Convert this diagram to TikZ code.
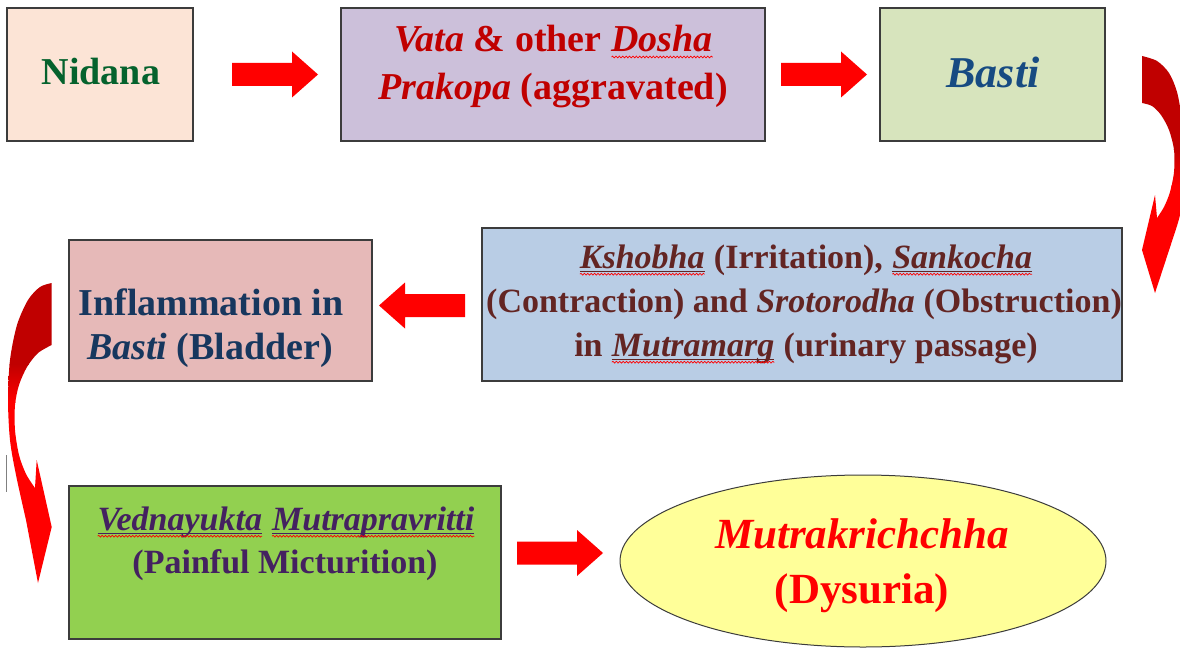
\documentclass[tikz,border=0pt]{standalone}
\usepackage{fontspec}
\setmainfont{Liberation Serif}
\usetikzlibrary{shapes.geometric,decorations.pathmorphing}

\definecolor{fNid}{RGB}{252,228,214}
\definecolor{fVata}{RGB}{204,192,218}
\definecolor{fBasti}{RGB}{215,228,189}
\definecolor{fKsh}{RGB}{185,205,229}
\definecolor{fInfl}{RGB}{230,185,184}
\definecolor{fVed}{RGB}{146,208,80}
\definecolor{fMut}{RGB}{255,255,153}
\definecolor{cNid}{RGB}{5,98,45}
\definecolor{cVata}{RGB}{192,0,0}
\definecolor{cBasti}{RGB}{23,75,130}
\definecolor{cKsh}{RGB}{99,37,35}
\definecolor{cInfl}{RGB}{23,55,94}
\definecolor{cVed}{RGB}{68,33,96}
\definecolor{cMut}{RGB}{255,0,0}
\definecolor{arrowred}{RGB}{255,0,0}
\definecolor{darkred}{RGB}{192,0,0}
\definecolor{boxline}{RGB}{60,60,60}

\tikzset{
  wavestyle/.style={draw=red, line width=0.7pt, decorate, decoration={snake, amplitude=0.9pt, segment length=3.4pt}},
}
% red wavy underline only
\newcommand\wvy[1]{\tikz[baseline=(W.base)]{\node[inner sep=0pt, outer sep=0pt] (W) {#1};
  \draw[wavestyle] ([yshift=-5pt]W.base west) -- ([yshift=-5pt]W.base east);}}
% dark underline plus red wavy underline
\newcommand\uwvy[2]{\tikz[baseline=(W.base)]{\node[inner sep=0pt, outer sep=0pt] (W) {#2};
  \draw[draw=#1, line width=1.6pt] ([yshift=-3.4pt]W.base west) -- ([yshift=-3.4pt]W.base east);
  \draw[wavestyle] ([yshift=-6.2pt]W.base west) -- ([yshift=-6.2pt]W.base east);}}

\tikzset{
  boxnode/.style={draw=boxline, line width=1.3pt, inner sep=0pt, rectangle},
  txt/.style={inner sep=0pt, anchor=base},
  f38/.style={font=\fontsize{38}{44}\selectfont\bfseries},
  f34/.style={font=\fontsize{34}{40}\selectfont\bfseries},
  f44/.style={font=\fontsize{44}{50}\selectfont\bfseries},
  f43/.style={font=\fontsize{43}{50}\selectfont\bfseries},
  barrow/.pic={\fill[arrowred] (0,-11.5) -- (60,-11.5) -- (60,-23) -- (86,0) -- (60,23) -- (60,11.5) -- (0,11.5) -- cycle;}
}

\begin{document}
\begin{tikzpicture}[x=1pt,y=-1pt]
\useasboundingbox (0,0) rectangle (1180,650);
\fill[white] (0,0) rectangle (1180,650);

% boxes
\node[boxnode, fill=fNid, minimum width=186pt, minimum height=133pt] (nid) at (100,74.5) {};
\node[boxnode, fill=fVata, minimum width=424pt, minimum height=133pt] (vata) at (553,74.5) {};
\node[boxnode, fill=fBasti, minimum width=225pt, minimum height=133pt] (basti) at (992.5,74.5) {};
\node[boxnode, fill=fKsh, minimum width=640pt, minimum height=153pt] (ksh) at (802,304.5) {};
\node[boxnode, fill=fInfl, minimum width=303pt, minimum height=141pt] (infl) at (220.5,310.5) {};
\node[boxnode, fill=fVed, minimum width=432pt, minimum height=153pt] (ved) at (285,562.5) {};
\node[ellipse, draw=boxline, line width=1pt, fill=fMut, inner sep=0pt, minimum width=486pt, minimum height=172pt] (mut) at (863,561) {};

% texts
\node[txt, f38, text=cNid] (nidt) at (101,85) {Nidana};
\node[txt, f38, text=cVata] (vata1) at (554,52) {\textit{Vata} \& other \wvy{\itshape Dosha}};
\node[txt, f38, text=cVata] (vata2) at (553,100) {\textit{Prakopa} (aggravated)};
\node[txt, f44, text=cBasti] (bastit) at (993,88) {\textit{Basti}};
\node[txt, f34, text=cKsh] (ksh1) at (806,268) {\uwvy{cKsh}{\itshape Kshobha} (Irritation), \uwvy{cKsh}{\itshape Sankocha}};
\node[txt, f34, text=cKsh] (ksh2) at (804,312) {(Contraction) and \textit{Srotorodha} (Obstruction)};
\node[txt, f34, text=cKsh] (ksh3) at (806,356) {in \uwvy{cKsh}{\itshape Mutramarg} (urinary passage)};
\node[txt, f38, text=cInfl] (infl1) at (211,315) {Inflammation in};
\node[txt, f38, text=cInfl] (infl2) at (210,359) {\textit{Basti} (Bladder)};
\node[txt, f34, text=cVed] (ved1) at (286,530) {\uwvy{cVed}{\itshape Vednayukta} \uwvy{cVed}{\itshape Mutrapravritti}};
\node[txt, f34, text=cVed] (ved2) at (285,573) {(Painful Micturition)};
\node[txt, f43, text=cMut] (mut1) at (862,548) {\textit{Mutrakrichchha}};
\node[txt, f43, text=cMut] (mut2) at (862,603) {(Dysuria)};

% straight block arrows
\pic at (232,74.5) {barrow};
\pic at (781,74.5) {barrow};
\pic[rotate=180] at (465,305.5) {barrow};
\pic at (517,553) {barrow};

% curved arrow on the right (Basti -> Kshobha)
\begin{scope}
\clip (1142,56) -- plot[smooth] coordinates {(1142,56) (1157,61) (1169,73) (1177,92) (1182,120) (1185,155) (1184,190) (1180,215) (1175,232)} -- (1155,293) -- (1142,250) -- (1155,195) -- (1157,218) -- plot[smooth] coordinates {(1157,218) (1164,207) (1170,192) (1174,172) (1174,150) (1169,130) (1161,115) (1152,106) (1142,103)} -- cycle;
\fill[darkred] (1130,40) rectangle (1200,150);
\shade[top color=darkred, bottom color=arrowred] (1130,149) rectangle (1200,186);
\fill[arrowred] (1130,185) rectangle (1200,300);
\end{scope}

% curved arrow on the left (Inflammation -> Vednayukta)
\begin{scope}
\clip (51.7,283) -- plot[smooth] coordinates {(51.7,283) (40,287) (28,300) (17,325) (10,360) (8,400) (10,440) (16,475) (26,520)} -- (38,583) -- (51.7,527) -- (36.7,460) -- (35,488) -- plot[smooth] coordinates {(35,488) (26,474) (19,455) (15,430) (15,405) (19,385) (27,367) (38,353) (51.7,345)} -- cycle;
\fill[darkred] (0,270) rectangle (60,365);
\shade[top color=darkred, bottom color=arrowred] (0,364) rectangle (60,402);
\fill[arrowred] (0,401) rectangle (60,600);
\end{scope}

% small cursor mark
\draw[gray, line width=1pt] (6,455) -- (6,492);
\end{tikzpicture}
\end{document}
